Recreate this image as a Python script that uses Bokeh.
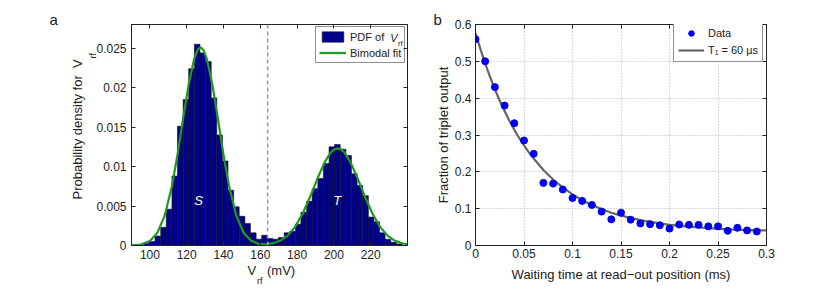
from bokeh.plotting import figure
from bokeh.layouts import row
from bokeh.models import (Range1d, LinearAxis, FixedTicker, CustomJSTickFormatter,
                          Legend, LegendItem, Label, Span, Title)
from bokeh.embed import file_html
from bokeh.resources import INLINE

FONT = "Liberation Sans"
INK = "#222222"
NBSP = "\u00a0"

# ---------------- Panel a: histogram of V_rf ----------------
bin_centers_mV = [98.2, 101.3, 104.3, 107.4, 110.4, 113.5, 116.5, 119.6, 122.6, 125.7,
                  128.7, 131.8, 134.8, 137.9, 140.9, 144.0, 147.0, 150.1, 153.1, 156.2,
                  159.2, 162.3, 165.3, 168.4, 171.4, 174.5, 177.5, 180.6, 183.6, 186.7,
                  189.7, 192.8, 195.8, 198.9, 201.9, 205.0, 208.0, 211.1, 214.1, 217.2,
                  220.2, 223.3, 226.3, 229.4, 232.4, 235.5]
bin_width_mV = 3.05
pdf_values = [0.0003, 0.0005, 0.0012, 0.0023, 0.0046, 0.0088, 0.0151, 0.0185, 0.0224, 0.0255,
              0.0244, 0.0233, 0.0187, 0.0140, 0.0107, 0.0070, 0.0049, 0.0037, 0.0028, 0.0016,
              0.0008, 0.0013, 0.0009, 0.0008, 0.0010, 0.0016, 0.0018, 0.0027, 0.0042, 0.0056,
              0.0072, 0.0085, 0.0104, 0.0125, 0.0128, 0.0122, 0.0114, 0.0091, 0.0076, 0.0063,
              0.0036, 0.0030, 0.0016, 0.0008, 0.0004, 0.0002]
fit_x_mV = [90, 95, 100, 104, 108, 112, 115, 118, 121, 124,
            126, 127.5, 129, 131, 134, 137, 140, 143, 147, 151,
            155, 159, 163, 167, 171, 175, 179, 183, 187, 191,
            195, 198, 200, 202, 204, 206, 209, 213, 217, 221,
            225, 229, 233, 237, 240]
fit_pdf = [0.00002, 0.00013, 0.00057, 0.00159, 0.00375, 0.00755, 0.01149, 0.01599, 0.02032, 0.02361,
           0.02482, 0.0251, 0.02482, 0.02361, 0.02032, 0.01599, 0.01149, 0.00755, 0.00375, 0.00159,
           0.00059, 0.00022, 0.00016, 0.00029, 0.00063, 0.00128, 0.00239, 0.00402, 0.00612, 0.00845,
           0.01057, 0.01171, 0.01215, 0.0123, 0.01215, 0.01171, 0.01057, 0.00845, 0.00612, 0.00402,
           0.00239, 0.00128, 0.00063, 0.00028, 0.00014]
threshold_mV = 164
a_xticks = [100, 120, 140, 160, 180, 200, 220]
a_yticks = [0, 0.005, 0.01, 0.015, 0.02, 0.025]

# ---------------- Panel b: T1 decay ----------------
wait_ms = [0.00, 0.01, 0.02, 0.03, 0.04, 0.05, 0.06, 0.07, 0.08, 0.09,
           0.10, 0.11, 0.12, 0.13, 0.14, 0.15, 0.16, 0.17, 0.18, 0.19,
           0.20, 0.21, 0.22, 0.23, 0.24, 0.25, 0.26, 0.27, 0.28, 0.29]
triplet_fraction = [0.560, 0.500, 0.430, 0.380, 0.332, 0.285, 0.249, 0.170, 0.168, 0.152,
                    0.129, 0.121, 0.110, 0.092, 0.071, 0.089, 0.070, 0.060, 0.058, 0.055,
                    0.046, 0.057, 0.056, 0.056, 0.052, 0.052, 0.040, 0.048, 0.041, 0.038]
fit_t_ms = [0, 0.005, 0.01, 0.015, 0.02, 0.025, 0.03, 0.035, 0.04, 0.045,
            0.05, 0.055, 0.06, 0.07, 0.08, 0.09, 0.10, 0.11, 0.12, 0.13,
            0.14, 0.15, 0.16, 0.17, 0.18, 0.19, 0.20, 0.22, 0.24, 0.26, 0.28, 0.30]
fit_fraction = [0.577, 0.534, 0.494, 0.458, 0.424, 0.393, 0.365, 0.338, 0.314, 0.292,
                0.272, 0.253, 0.236, 0.205, 0.179, 0.158, 0.139, 0.123, 0.110, 0.099,
                0.089, 0.081, 0.075, 0.069, 0.064, 0.060, 0.056, 0.051, 0.047, 0.044, 0.042, 0.041]
b_xticks = [0, 0.05, 0.1, 0.15, 0.2, 0.25, 0.3]
b_yticks = [0, 0.1, 0.2, 0.3, 0.4, 0.5, 0.6]


def style_axes(p, xt, yt, label_size="12px", x_standoff=4, y_standoff=5):
    fmt = CustomJSTickFormatter(code="return String(tick);")
    blank = CustomJSTickFormatter(code="return '';")
    bottom = p.below[0]
    left = p.left[0]
    bottom.ticker = FixedTicker(ticks=xt)
    left.ticker = FixedTicker(ticks=yt)
    bottom.formatter = fmt
    left.formatter = fmt
    bottom.major_label_standoff = x_standoff
    left.major_label_standoff = y_standoff
    top = LinearAxis(ticker=FixedTicker(ticks=xt), formatter=blank)
    right = LinearAxis(ticker=FixedTicker(ticks=yt), formatter=blank)
    p.add_layout(top, "above")
    p.add_layout(right, "right")
    for ax in (bottom, left, top, right):
        ax.major_tick_in = 4
        ax.major_tick_out = 0
        ax.minor_tick_line_color = None
        ax.axis_line_color = INK
        ax.major_tick_line_color = INK
        ax.major_label_text_font = FONT
        ax.major_label_text_font_size = label_size
        ax.major_label_text_color = INK
        ax.axis_label_text_font = FONT
        ax.axis_label_text_font_size = "13px"
        ax.axis_label_text_font_style = "normal"
        ax.axis_label_text_color = INK
    for ax in (top, right):
        ax.major_label_text_font_size = "0px"
        ax.major_label_standoff = 0
    p.outline_line_color = INK
    return bottom, left


def txt(p, x, y, text, size="13px", style="normal", align="center", color=INK):
    p.add_layout(Label(x=x, y=y, text=text, text_font=FONT, text_font_size=size,
                       text_font_style=style, text_align=align, text_baseline="middle",
                       text_color=color, level="overlay"))


def side_text(p, side, text, size, valign, standoff, offset, style="normal", align="left"):
    p.add_layout(Title(text=text, text_font=FONT, text_font_size=size, text_font_style=style,
                       text_color=INK, vertical_align=valign, align=align,
                       standoff=standoff, offset=offset), side)


# ---------- figure a ----------
pa = figure(width=418, height=294, x_range=Range1d(90, 240), y_range=Range1d(0, 0.028),
            output_backend="svg", toolbar_location=None, title=None,
            min_border_left=131, min_border_right=11, min_border_top=24, min_border_bottom=49)
pa.xgrid.visible = False
pa.ygrid.visible = False

bars = pa.vbar(x=bin_centers_mV, top=pdf_values, width=bin_width_mV, bottom=0,
               fill_color="#00008c", line_color="#111111", line_width=0.6)
fit_a = pa.line(fit_x_mV, fit_pdf, line_color="#1f9a1f", line_width=2.2, line_join="round")
pa.add_layout(Span(location=threshold_mV, dimension="height", line_color="#b89494",
                   line_width=1.6, line_dash="4 3"))
style_axes(pa, a_xticks, a_yticks)

leg_a = Legend(items=[LegendItem(label="PDF of", renderers=[bars]),
                      LegendItem(label="Bimodal fit", renderers=[fit_a])],
               location=(184, 182), orientation="vertical",
               border_line_color=INK, border_line_width=1, background_fill_color="white",
               background_fill_alpha=0.0, label_text_font=FONT, label_text_font_size="11px",
               label_text_color=INK, glyph_width=27, glyph_height=13, label_height=13,
               spacing=3, padding=3, label_standoff=4, margin=0)
pa.add_layout(leg_a, "center")

# legend subscript pieces
txt(pa, 232.6, 0.02623, "V", size="11px", style="italic")
txt(pa, 234.8, 0.02559, "rf", size="8px", align="left")

# S / T peak labels
txt(pa, 126.4, 0.0057, "S", size="13px", style="italic", color="white")
txt(pa, 201.8, 0.0057, "T", size="13px", style="italic", color="white")

# panel letter a
side_text(pa, "above", "a", "15px", "top", -11, -82)

# y-axis label "Probability density for V_rf" (rotated, left side)
side_text(pa, "left", "rf", "9px", "bottom", -8.4, 187)
side_text(pa, "left", "Probability density for" + NBSP * 2 + "V", "13px", "top", 3.5, 46)
side_text(pa, "left", NBSP, "13px", "top", -25.5, 173)

# x-axis label "V_rf (mV)"
side_text(pa, "below", "V" + NBSP * 3 + "(mV)", "13px", "bottom", -2.3, 116)
side_text(pa, "below", NBSP, "13px", "bottom", -27, 135)
side_text(pa, "below", "rf", "9px", "bottom", -3.7, 125.5)

# ---------- figure b ----------
pb = figure(width=413, height=294, x_range=Range1d(0, 0.3), y_range=Range1d(0, 0.6),
            output_backend="svg", toolbar_location=None, title=None,
            min_border_left=57, min_border_right=65, min_border_top=24, min_border_bottom=43)
b_bottom, b_left = style_axes(pb, b_xticks, b_yticks, x_standoff=3, y_standoff=4)
pb.xgrid.ticker = FixedTicker(ticks=b_xticks)
pb.ygrid.ticker = FixedTicker(ticks=b_yticks)
for g in (pb.xgrid[0], pb.ygrid[0]):
    g.grid_line_color = "#b5b5b5"
    g.grid_line_dash = "1 2"
    g.grid_line_width = 1
b_bottom.axis_label = "Waiting time at read\u2212out position (ms)"
b_left.axis_label = "Fraction of triplet output"
b_bottom.axis_label_standoff = 6
b_left.axis_label_standoff = 1

fit_b = pb.line(fit_t_ms, fit_fraction, line_color="#666666", line_width=2.2, line_join="round")
pts = pb.scatter(wait_ms, triplet_fraction, marker="circle", size=7,
                 fill_color="#0000ee", line_color="#0000ee")

leg_b = Legend(items=[LegendItem(label="Data", renderers=[pts]),
                      LegendItem(label="T\u2081 = 60 \u00b5s", renderers=[fit_b])],
               location=(198, 183), orientation="vertical",
               border_line_color=INK, border_line_width=1, background_fill_color="white",
               background_fill_alpha=1.0, label_text_font=FONT, label_text_font_size="11px",
               label_text_color=INK, glyph_width=26, glyph_height=14, label_height=14,
               spacing=3, padding=4, label_standoff=4, margin=0)
pb.add_layout(leg_b, "center")

side_text(pb, "above", "b", "15px", "top", -11, -42)

layout = row(pa, pb)
open("out.html", "w").write(file_html(layout, INLINE))
